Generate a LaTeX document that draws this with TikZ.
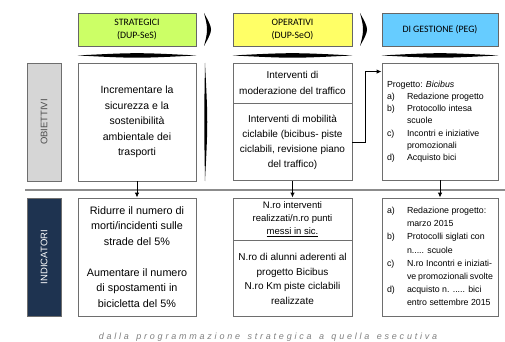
\documentclass[tikz,border=0pt]{standalone}
\usepackage{fontspec}
\setmainfont{Liberation Sans}
\newfontfamily\hdfont{Carlito}
\newfontfamily\capfont[LetterSpace=31,WordSpace=1.4]{Liberation Sans}
\usetikzlibrary{arrows.meta,positioning}
\definecolor{dupgreen}{HTML}{CCFF66}
\definecolor{dupyellow}{HTML}{FFFF66}
\definecolor{pegblue}{HTML}{66CCFF}
\definecolor{objgray}{HTML}{D6D6D6}
\definecolor{indnavy}{HTML}{1E3350}
\definecolor{boxline}{HTML}{6E6E6E}

\begin{document}
\begin{tikzpicture}[x=1pt,y=-1pt,
    box/.style={draw=boxline,line width=0.9pt,fill=white,inner sep=0pt,align=center},
    head/.style={box,draw=black!60,minimum height=33pt,font=\hdfont\fontsize{9.8}{13}\selectfont},
    side/.style={draw=boxline,line width=0.9pt,rotate=90,minimum width=118pt,minimum height=34pt,inner sep=0pt,font=\fontsize{9.5}{11}\selectfont},
    arr/.style={-{Latex[length=5pt,width=4.5pt]},line width=0.9pt}]
    \useasboundingbox (0,0) rectangle (505,342);
    % headers
    \node[head,fill=dupgreen,minimum width=118pt]  (strathd) at (137,29.5)   {STRATEGICI\\(DUP-SeS)};
    \node[head,fill=dupyellow,minimum width=119pt] (ophd)    at (292.5,29.5) {OPERATIVI\\(DUP-SeO)};
    \node[head,fill=pegblue,minimum width=116pt]   (peghd)   at (440,29.5)   {DI GESTIONE (PEG)};
    \foreach \cx in {204,360}
      \fill (\cx,13) .. controls (\cx+5,22) and (\cx+7,26) .. (\cx+7,29.5) .. controls (\cx+7,33) and (\cx+5,37) .. (\cx,46)
        .. controls (\cx+2.5,37) and (\cx+3,33) .. (\cx+3,29.5) .. controls (\cx+3,26) and (\cx+2.5,22) .. cycle;
    \foreach \h in {strathd,ophd,peghd}
      \fill ([yshift=-9pt]\h.south west) .. controls ([yshift=-6pt]\h.south) .. ([yshift=-9pt]\h.south east)
        .. controls ([yshift=-12pt]\h.south) .. cycle;
    % obiettivi
    \node[side,fill=objgray,text=black!70] (obj) at (44,122) {OBIETTIVI};
    \node[box,minimum width=118pt,minimum height=118pt,font=\fontsize{10.5}{15.5}\selectfont] (strat) at (137,122)
      {Incrementare la\\sicurezza e la\\sostenibilità\\ambientale dei\\trasporti};
    \fill (205,63) .. controls (208,122) .. (205,181) .. controls (204,122) .. cycle;
    \node[box,minimum width=119pt,minimum height=40pt,font=\fontsize{10}{16}\selectfont] (op1) at (292.5,83)
      {Interventi di\\moderazione del traffico};
    \node[box,minimum width=119pt,minimum height=77pt,font=\fontsize{10}{15}\selectfont,below=0pt of op1] (op2)
      {Interventi di mobilità\\ciclabile (bicibus- piste\\ciclabili, revisione piano\\del traffico)};
    \node[box,minimum width=116pt,minimum height=117pt,font=\fontsize{8.8}{12.3}\selectfont] (peg) at (440,121.5)
      {\begin{tabular}{@{}p{20pt}@{}p{86pt}@{}}
        \multicolumn{2}{@{}l@{}}{Progetto: \textit{Bicibus}}\\
        a) & Redazione progetto\\
        b) & Protocollo intesa\newline scuole\\
        c) & Incontri e iniziative\newline promozionali\\
        d) & Acquisto bici
      \end{tabular}};
    \draw[arr] (op2.east) -- ++(13,0) |- ([yshift=-9pt]peg.north west);
    % separator
    \draw[black!45,line width=1.5pt] (25,190) -- (505,190);
    % indicatori
    \node[side,fill=indnavy,text=white] (ind) at (44,257) {INDICATORI};
    \node[box,minimum width=118pt,minimum height=118pt,font=\fontsize{10.8}{15.5}\selectfont] (stratind) at (137,257)
      {Ridurre il numero di\\morti/incidenti sulle\\strade del 5\%\\[15.5pt]Aumentare il numero\\di spostamenti in\\bicicletta del 5\%};
    \node[box,minimum width=119pt,minimum height=42pt,font=\fontsize{9.5}{13}\selectfont] (opind1) at (292.5,219)
      {N.ro interventi\\realizzati/n.ro punti\\\underline{messi in sic.}};
    \node[box,minimum width=119pt,minimum height=76pt,font=\fontsize{10}{14.5}\selectfont,below=0pt of opind1] (opind2)
      {N.ro di alunni aderenti al\\progetto Bicibus\\N.ro Km piste ciclabili\\realizzate};
    \node[box,minimum width=116pt,minimum height=118pt,font=\fontsize{8.8}{13.1}\selectfont] (pegind) at (440,257)
      {\begin{tabular}{@{}p{20pt}@{}p{86pt}@{}}
        a) & Redazione progetto:\newline marzo 2015\\
        b) & Protocolli siglati con\newline n..... scuole\\
        c) & N.ro Incontri e iniziati-\newline ve promozionali svolte\\
        d) & acquisto n. ..... bici\newline entro settembre 2015
      \end{tabular}};
    \draw[arr] (strat.south) -- (stratind.north);
    \draw[arr] (op2.south) -- (opind1.north);
    \draw[arr] (peg.south) -- (pegind.north);
    \node[font=\capfont\itshape\fontsize{9}{11}\selectfont,text=black!50] (caption) at (268,337)
      {dalla programmazione strategica a quella esecutiva};
\end{tikzpicture}
\end{document}
